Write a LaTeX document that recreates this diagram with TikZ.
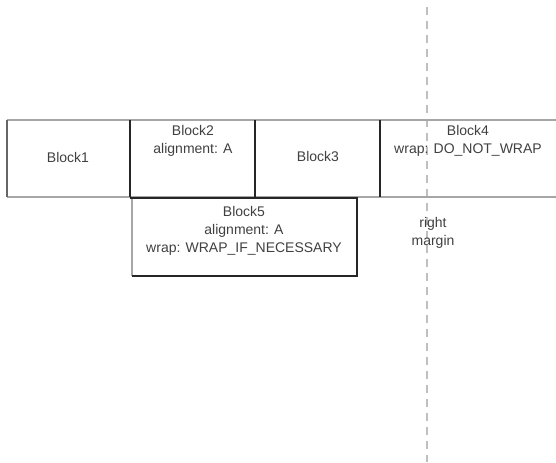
\documentclass[tikz,border=0pt]{standalone}
\usepackage{fontspec}
\setmainfont{Liberation Sans}
\begin{document}
\begin{tikzpicture}[x=0.75pt,y=-0.75pt,
  lbl/.style={inner sep=0pt,align=center,font=\fontsize{10.5}{13.5}\selectfont,text=black!75},
  lite/.style={draw=black!35,line width=0.8pt},
  dark/.style={draw=black!85,line width=1pt},
  marg/.style={draw=black!25,line width=1pt,dash pattern=on 6pt off 4.5pt}]
\useasboundingbox (0,0) rectangle (556,462);
% right margin
\coordinate (mt) at (427,7);
\coordinate (mb) at (427,462);
\draw[marg] (mt) -- (mb);
% row of blocks
\draw[lite] (7,120) -- (556,120);
\draw[lite] (7,197) -- (556,197);
\draw[draw=black!60,line width=0.9pt] (7,120) -- (7,197);
\draw[dark] (130,120) -- (130,197);
\draw[dark] (255,120) -- (255,197);
\draw[dark] (380,120) -- (380,197);
% block5
\draw[lite] (132,198) -- (132,276);
\draw[dark] (130,198) -- (357,198) -- (357,276) -- (132,276);
% labels
\node[lbl] (b1) at (68,157) {Block1};
\node[lbl] (b2) at (193,141) {Block2\\alignment: A};
\node[lbl] (b3) at (318,156) {Block3};
\node[lbl] (b4) at (468,141) {Block4\\wrap: DO\_NOT\_WRAP};
\node[lbl] (b5) at (244,231) {Block5\\alignment: A\\wrap: WRAP\_IF\_NECESSARY};
\node[lbl] (rm) at (433,233) {right\\margin};
\end{tikzpicture}
\end{document}
